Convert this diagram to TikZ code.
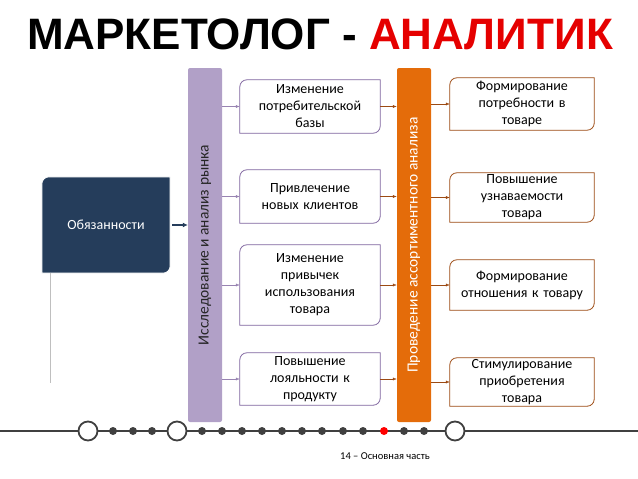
\documentclass[tikz,border=0pt]{standalone}
\usepackage{fontspec}
\setmainfont{Carlito}
\newfontfamily\titlefont{Liberation Sans}
\usetikzlibrary{arrows.meta}
\definecolor{navy}{HTML}{253D5B}
\definecolor{lilac}{HTML}{B1A0C7}
\definecolor{lilacdark}{HTML}{7F659F}
\definecolor{orng}{HTML}{E46C0A}
\definecolor{brwn}{HTML}{9C4A13}
\tikzset{
  itembox/.style={minimum width=140pt, text width=138pt, align=center, inner sep=0pt,
    font=\fontsize{14}{17}\selectfont},
  bar/.style={minimum width=34pt, minimum height=354pt, inner sep=0pt, rounded corners=2pt},
  bartext/.style={rotate=90, font=\fontsize{15.5}{18}\selectfont},
  link/.style={-{Latex[length=4pt,width=3pt]}, thin},
}
% box with rounded top-left and bottom-right corners
\newcommand{\cutbox}[2]{%
  \draw[#2] (#1.north east) -- ([yshift=7pt]#1.south east)
    arc[start angle=0,end angle=-90,radius=7pt] -- (#1.south west)
    -- ([yshift=-7pt]#1.north west) arc[start angle=180,end angle=90,radius=7pt] -- cycle;}
\begin{document}
\begin{tikzpicture}[x=1pt,y=-1pt]
    \useasboundingbox (0,0) rectangle (638,479);

    % Title
    \node[font=\titlefont\bfseries\fontsize{44}{48}\selectfont] (title) at (320,34)
        {МАРКЕТОЛОГ - \textcolor{red!90!black}{АНАЛИТИК}};

    % Duties box
    \node[minimum width=128pt, minimum height=96pt, inner sep=0pt] (duty) at (106,225) {};
    \cutbox{duty}{fill=navy, draw=white, line width=1pt}
    \node[text=white, font=\fontsize{14}{16}\selectfont] at (duty) {Обязанности};
    \draw[gray!50] (50,273) -- (50,383);

    % Vertical bars
    \node[bar, fill=lilac] (market) at (205,245) {};
    \node[bartext, text=black!85] at (market) {Исследование и анализ рынка};
    \node[bar, fill=orng] (assort) at (414,245) {};
    \node[bartext, text=white] at (assort) {Проведение ассортиментного анализа};
    \draw[navy, -{Latex[length=5pt,width=5pt]}, line width=1.6pt] (duty.east) ++(2pt,0) -- (market.west |- duty.east);

    % Purple items
    \foreach \n/\y/\h/\t in {p1/106.5/53/{Изменение\\потребительской\\базы},
                             p2/196.5/53/{Привлечение\\новых клиентов},
                             p3/285/80/{Изменение\\привычек\\использования\\товара},
                             p4/379/52/{Повышение\\лояльности к\\продукту}} {
        \node[itembox, minimum height=\h pt] (\n) at (310,\y) {};
        \cutbox{\n}{draw=lilacdark, fill=white, line width=0.8pt}
        \node[itembox] at (\n) {\t};
        \draw[link, lilacdark!80] (market.east |- \n.west) -- (\n.west);
        \draw[link, brwn] (\n.east) -- (assort.west |- \n.east);
    }

    % Orange items
    \foreach \n/\y/\h/\t in {o1/104/52/{Формирование\\потребности в\\товаре},
                             o2/197.5/49/{Повышение\\узнаваемости\\товара},
                             o3/285/50/{Формирование\\отношения к товару},
                             o4/382/48/{Стимулирование\\приобретения\\товара}} {
        \node[itembox, minimum width=144pt, minimum height=\h pt] (\n) at (522,\y) {};
        \cutbox{\n}{draw=brwn, fill=white, line width=0.8pt}
        \node[itembox] at (\n) {\t};
        \draw[link, brwn] (assort.east |- \n.west) -- (\n.west);
    }

    % Timeline
    \draw[black!75, line width=1.5pt] (0,431) -- (638,431);
    \foreach \x in {113,133,152,202,222,242,262,282,302,322,343,363,404,424}
        \fill[black!75] (\x,431) circle (4pt);
    \fill[red] (384,431) circle (4pt);
    \foreach \x in {88,177,455}
        \draw[black!75, fill=white, line width=1.8pt] (\x,431) circle (9.5pt);

    \node[font=\fontsize{10.5}{12}\selectfont] (page) at (385,456) {14 – Основная часть};

\end{tikzpicture}
\end{document}
